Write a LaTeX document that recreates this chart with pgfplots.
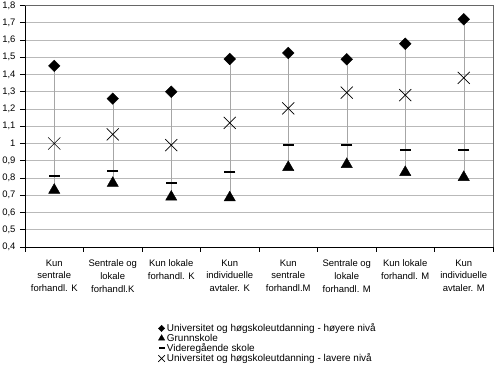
\documentclass[border=0pt]{standalone}
\usepackage{pgfplots}
\pgfplotsset{compat=1.18}
\usepackage{fontspec}
\setmainfont{Liberation Sans}
\begin{document}
\begin{tikzpicture}
\useasboundingbox (0,0) rectangle (500bp,374bp);
\begin{axis}[
  at={(25bp,127bp)}, anchor=south west,
  scale only axis, width=468bp, height=241.5bp,
  xmin=-0.5, xmax=7.5, ymin=0.4, ymax=1.8,
  axis x line*=bottom, axis y line*=left,
  axis line style={black, line width=0.8bp},
  xtick={0,...,7}, major x tick style={draw=none},
  minor xtick={-0.5,0.5,...,7.5},
  minor x tick style={black, line width=0.6bp},
  minor tick length=5bp,
  tick align=outside,
  ytick={0.4,0.5,...,1.81},
  ytick style={black, line width=0.6bp},
  major tick length=5bp,
  ymajorgrids, major grid style={gray!55, line width=0.6bp},
  /pgf/number format/.cd, use comma, fixed, precision=1, 1000 sep={}, assume math mode=true,
  /pgfplots/.cd,
  yticklabel style={font=\fontsize{9.5}{11}\selectfont, xshift=-1bp},
  xticklabels={{Kun\\sentrale\\forhandl. K},{Sentrale og\\lokale\\forhandl.K},{Kun lokale\\forhandl. K},{Kun\\individuelle\\avtaler. K},{Kun\\sentrale\\forhandl.M},{Sentrale og\\lokale\\forhandl. M},{Kun lokale\\forhandl. M},{Kun\\individuelle\\avtaler. M}},
  xticklabel style={font=\fontsize{9.5}{13}\selectfont, align=center, yshift=-4bp},
  legend style={draw=none, fill=none, at={(0.278,-0.30)}, anchor=north west,
    font=\fontsize{10}{12}\selectfont, cells={anchor=west}, row sep=-3.2bp,
    /tikz/every even column/.append style={column sep=0bp}},
  legend image code/.code={\draw[#1, every mark/.append style={scale=0.55}] plot coordinates {(0.12cm,0cm)};},
  clip=false,
]
% high-low lines
\addplot[gray!70, line width=0.5bp, unbounded coords=jump, forget plot] coordinates {
(0,0.73) (0,1.45) (0,nan)
(1,0.77) (1,1.26) (1,nan)
(2,0.69) (2,1.30) (2,nan)
(3,0.686) (3,1.49) (3,nan)
(4,0.862) (4,1.525) (4,nan)
(5,0.879) (5,1.488) (5,nan)
(6,0.833) (6,1.578) (6,nan)
(7,0.804) (7,1.72)
};
\addplot[only marks, mark=square*, mark size=4.1bp, mark options={rotate=45, fill=black, draw=black}] coordinates {
(0,1.45) (1,1.26) (2,1.30) (3,1.49) (4,1.525) (5,1.488) (6,1.578) (7,1.72)};
\addlegendentry{Universitet og høgskoleutdanning - høyere nivå}
\addplot[only marks, mark=triangle*, mark size=6.5bp, mark options={fill=black, draw=black}] coordinates {
(0,0.73) (1,0.77) (2,0.69) (3,0.686) (4,0.862) (5,0.879) (6,0.833) (7,0.804)};
\addlegendentry{Grunnskole}
\addplot[only marks, mark=-, mark size=5.5bp, mark options={draw=black, line width=2.2bp}] coordinates {
(0,0.81) (1,0.841) (2,0.771) (3,0.833) (4,0.991) (5,0.99) (6,0.964) (7,0.964)};
\addlegendentry{Videregående skole}
\addplot[only marks, mark=x, mark size=8.5bp, mark options={draw=black, line width=0.7bp}] coordinates {
(0,1.0) (1,1.053) (2,0.991) (3,1.12) (4,1.204) (5,1.295) (6,1.281) (7,1.381)};
\addlegendentry{Universitet og høgskoleutdanning - lavere nivå}
\draw[gray!80!black, line width=0.8bp] (rel axis cs:0,1) -- (rel axis cs:1,1) -- (rel axis cs:1,0);
\end{axis}
\end{tikzpicture}
\end{document}
